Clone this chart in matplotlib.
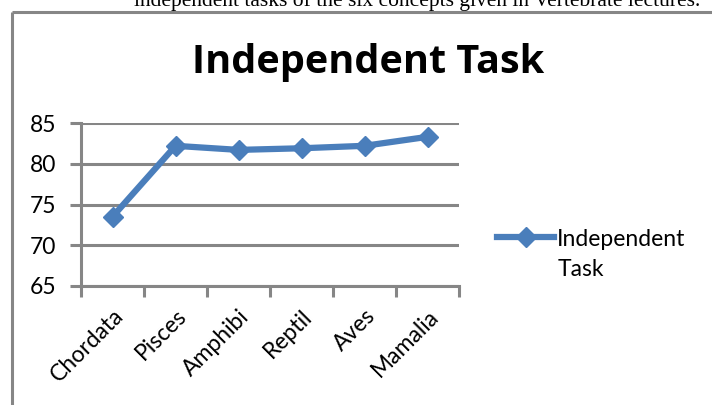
import matplotlib
matplotlib.use("Agg")
import matplotlib.pyplot as plt
from matplotlib.lines import Line2D
import numpy as np

categories = ["Chordata", "Pisces", "Amphibi", "Reptil", "Aves", "Mamalia"]
values = [73.5, 82.2, 81.7, 81.9, 82.2, 83.3]
yticks = [65, 70, 75, 80, 85]
series_name = "Independent Task"
caption = "independent tasks of the six concepts given in Vertebrate lectures."

W, H = 712, 405
fig = plt.figure(figsize=(W / 100, H / 100), dpi=100)
fig.patch.set_facecolor("white")

gray = "#868686"
blue = "#4A7EBB"
font = "Lato"

# caption text partially cut off at the top (as in the reference)
fig.text(700 / W, 1 - 6 / H, caption, ha="right", va="baseline",
         family="Liberation Serif", fontsize=15.5, color="black")

# chart frame (left & top borders visible)
fig.add_artist(Line2D([12 / W, 12 / W], [0, 1 - 12 / H], transform=fig.transFigure,
                      color=gray, lw=2.2, solid_capstyle="butt"))
fig.add_artist(Line2D([12 / W, 1], [1 - 12 / H, 1 - 12 / H], transform=fig.transFigure,
                      color=gray, lw=2.2, solid_capstyle="butt"))

left, right, top, bottom = 81, 459, 123, 286
ax = fig.add_axes([left / W, 1 - bottom / H, (right - left) / W, (bottom - top) / H])
x = np.arange(len(categories))
ax.plot(x, values, color=blue, lw=4.5, marker="D", markersize=10,
        markeredgecolor=blue, markerfacecolor=blue, zorder=3, label="Independent",
        clip_on=False)

ax.set_xlim(-0.5, len(categories) - 0.5)
ax.set_ylim(65, 85)
ax.set_yticks(yticks)
ax.set_yticklabels([str(t) for t in yticks], family=font, fontsize=16.5)
ax.yaxis.grid(True, color=gray, lw=2.2)
ax.set_axisbelow(True)

ax.set_xticks(x)
ax.set_xticklabels(categories, rotation=45, ha="right", rotation_mode="anchor",
                   family=font, fontsize=16.5)
ax.set_xticks(np.arange(-0.5, len(categories)), minor=True)
ax.tick_params(axis="x", which="major", length=0, pad=14)
ax.tick_params(axis="x", which="minor", length=8, width=2.2, color=gray, direction="out")
ax.tick_params(axis="y", length=8, width=2.2, color=gray, direction="out", pad=10)

for s in ["top", "right"]:
    ax.spines[s].set_visible(False)
for s in ["left", "bottom"]:
    ax.spines[s].set_color(gray)
    ax.spines[s].set_linewidth(2.2)

# title
fig.text(368 / W, 1 - 62 / H, series_name, ha="center", va="center",
         family="Open Sans", fontweight="bold", fontsize=28.5, color="black")

# legend
leg = fig.legend(handles=ax.get_lines(), loc="center left",
                 bbox_to_anchor=(497 / W, 1 - 239 / H), frameon=False,
                 prop={"family": font, "size": 16.5}, handlelength=2.5,
                 handletextpad=0.1, borderaxespad=0, borderpad=0)
fig.text(558 / W, 1 - 270 / H, "Task", ha="left", va="center",
         family=font, fontsize=16.5, color="black")

fig.savefig("out.png", dpi=100, facecolor="white")
